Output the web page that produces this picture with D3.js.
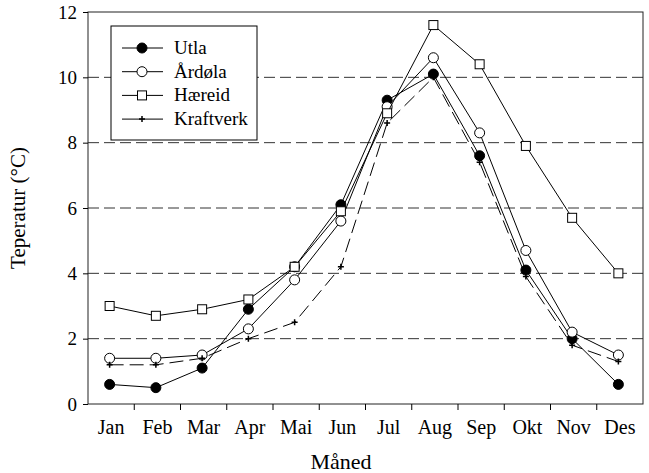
<!DOCTYPE html>
<html>
<head>
<meta charset="utf-8">
<script src="https://cdn.jsdelivr.net/npm/d3@7"></script>
<style>
  body { margin: 0; background: #fff; }
  svg text { font-family: "Liberation Serif", "Times New Roman", serif; fill: #000; }
</style>
</head>
<body>
<div class="chart"></div>
<script>
var MONTHS = ["Jan", "Feb", "Mar", "Apr", "Mai", "Jun", "Jul", "Aug", "Sep", "Okt", "Nov", "Des"];
var Y_TICKS = [0, 2, 4, 6, 8, 10, 12];
var GRID_VALUES = [2, 4, 6, 8, 10];

var UTLA      = [0.6, 0.5, 1.1, 2.9, 4.2, 6.1, 9.3, 10.1, 7.6, 4.1, 2.0, 0.6];
var ARDOLA    = [1.4, 1.4, 1.5, 2.3, 3.8, 5.6, 9.1, 10.6, 8.3, 4.7, 2.2, 1.5];
var HAEREID   = [3.0, 2.7, 2.9, 3.2, 4.2, 5.9, 8.9, 11.6, 10.4, 7.9, 5.7, 4.0];
var KRAFTVERK = [1.2, 1.2, 1.4, 2.0, 2.5, 4.2, 8.6, 10.0, 7.4, 3.9, 1.8, 1.3];

var SERIES = [
  {name: "Utla", values: UTLA, marker: "filled"},
  {name: "Årdøla", values: ARDOLA, marker: "open"},
  {name: "Hæreid", values: HAEREID, marker: "square"},
  {name: "Kraftverk", values: KRAFTVERK, marker: "plus", dash: "14,6"}
];

var W = 649, H = 473;
var margin = {top: 12, right: 6, bottom: 69, left: 88},
    width = W - margin.left - margin.right,
    height = H - margin.top - margin.bottom;

var svg = d3.select(".chart").append("svg")
  .attr("width", W)
  .attr("height", H)
  .append("g")
  .attr("transform", "translate(" + margin.left + "," + margin.top + ")");

var x = d3.scaleBand().domain(MONTHS).range([0, width]);
var y = d3.scaleLinear().domain([0, 12]).range([height, 0]);

function cx(i) { return x(MONTHS[i]) + x.bandwidth() / 2 - 1.5; }

// dashed grid
svg.selectAll(".grid")
  .data(GRID_VALUES)
  .enter().append("line")
  .attr("x1", 0).attr("x2", width)
  .attr("y1", function(d) { return y(d); })
  .attr("y2", function(d) { return y(d); })
  .attr("stroke", "#333")
  .attr("stroke-width", 1)
  .attr("stroke-dasharray", "11,5");

// frame
svg.append("rect")
  .attr("width", width).attr("height", height)
  .attr("fill", "none").attr("stroke", "#222").attr("stroke-width", 1);

// y axis
var yAxis = svg.append("g")
  .call(d3.axisLeft(y).tickValues(Y_TICKS).tickSize(5).tickPadding(6));
yAxis.select(".domain").remove();
yAxis.selectAll("text").style("font-size", "19px")
  .style("font-family", "'Liberation Serif', serif");

// x axis: ticks on band boundaries, labels at band centres
var xg = svg.append("g").attr("transform", "translate(0," + height + ")");
xg.selectAll(".xt")
  .data(MONTHS.slice(1))
  .enter().append("line")
  .attr("x1", function(d) { return x(d); })
  .attr("x2", function(d) { return x(d); })
  .attr("y1", 0).attr("y2", 6)
  .attr("stroke", "#000");
xg.selectAll(".xl")
  .data(MONTHS)
  .enter().append("text")
  .attr("x", function(d) { return x(d) + x.bandwidth() / 2; })
  .attr("y", 30)
  .attr("text-anchor", "middle")
  .style("font-size", "20px")
  .text(function(d) { return d; });

svg.append("text")
  .attr("x", 341 - margin.left)
  .attr("y", height + 65)
  .attr("text-anchor", "middle")
  .style("font-size", "22px")
  .text("Måned");

svg.append("text")
  .attr("transform", "rotate(-90)")
  .attr("x", -height / 2)
  .attr("y", -63)
  .attr("text-anchor", "middle")
  .style("font-size", "21px")
  .text("Teperatur (°C)");

function drawMarker(g, type, px, py) {
  if (type === "filled") {
    g.append("circle").attr("cx", px).attr("cy", py).attr("r", 5)
      .attr("fill", "#000").attr("stroke", "#000");
  } else if (type === "open") {
    g.append("circle").attr("cx", px).attr("cy", py).attr("r", 5)
      .attr("fill", "#fff").attr("stroke", "#000");
  } else if (type === "square") {
    g.append("rect").attr("x", px - 4.5).attr("y", py - 4.5)
      .attr("width", 9).attr("height", 9)
      .attr("fill", "#fff").attr("stroke", "#000");
  } else {
    g.append("path")
      .attr("d", "M" + (px - 3) + "," + py + "H" + (px + 3) + "M" + px + "," + (py - 3) + "V" + (py + 3))
      .attr("stroke", "#000").attr("stroke-width", 1.5);
  }
}

var line = d3.line()
  .x(function(d, i) { return cx(i); })
  .y(function(d) { return y(d); });

// series in order, later ones drawn over earlier ones
SERIES.forEach(function(s) {
  var g = svg.append("g");
  g.append("path")
    .datum(s.values)
    .attr("d", line)
    .attr("fill", "none")
    .attr("stroke", "#000")
    .attr("stroke-width", 1)
    .attr("stroke-dasharray", s.dash || null);
  s.values.forEach(function(v, i) { drawMarker(g, s.marker, cx(i), y(v)); });
});

// legend
var lg = svg.append("g").attr("transform", "translate(" + (111 - margin.left) + "," + (26 - margin.top) + ")");
lg.append("rect")
  .attr("width", 146).attr("height", 114)
  .attr("fill", "#fff").attr("stroke", "#000");
SERIES.forEach(function(s, i) {
  var ly = 22 + i * 23.7;
  lg.append("line")
    .attr("x1", 11).attr("x2", 52)
    .attr("y1", ly).attr("y2", ly)
    .attr("stroke", "#000");
  drawMarker(lg, s.marker, 31, ly);
  lg.append("text")
    .attr("x", 63).attr("y", ly + 6)
    .style("font-size", "19px")
    .text(s.name);
});
</script>
</body>
</html>
